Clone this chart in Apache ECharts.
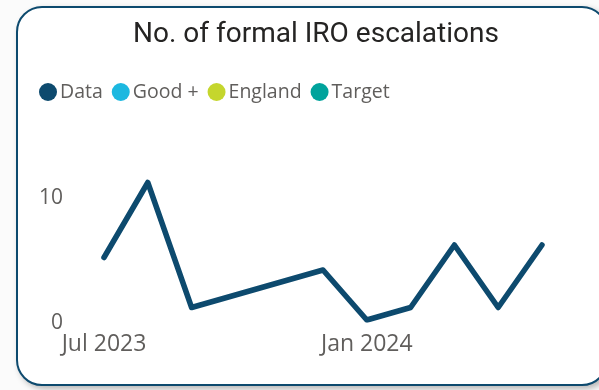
<!DOCTYPE html>
<html>
<head>
<meta charset="utf-8">
<script src="https://cdn.jsdelivr.net/npm/echarts@6/dist/echarts.min.js"></script>
<style>
  html, body { margin: 0; padding: 0; width: 599px; height: 390px; overflow: hidden; background: #fbfbfb; }
  #card {
    position: absolute; left: 16px; top: 6px; width: 588px; height: 376px;
    background: #ffffff; border: 2px solid #0d4a6e; border-radius: 26px;
    box-shadow: 3px 3px 6px rgba(0,0,0,0.28);
  }
  #chart { position: absolute; left: 0; top: 0; width: 599px; height: 390px; }
</style>
</head>
<body>
<div id="card"></div>
<div id="chart"></div>
<script>
// Monthly count of formal IRO escalations
const months = ['Jul 2023', 'Aug 2023', 'Sep 2023', 'Oct 2023', 'Nov 2023', 'Dec 2023',
                'Jan 2024', 'Feb 2024', 'Mar 2024', 'Apr 2024', 'May 2024'];
const escalations = [5, 11, 1, 2, 3, 4, 0, 1, 6, 1, 6];
const shownMonthLabels = ['Jul 2023', 'Jan 2024'];
const legendNames = ['Data', 'Good +', 'England', 'Target'];
const legendColors = ['#0d4a6e', '#1cb8e0', '#c5d62d', '#00a39c'];

const chart = echarts.init(document.getElementById('chart'), null, { renderer: 'canvas' });

const series = legendNames.map((name, i) => ({
  name: name,
  type: 'line',
  color: legendColors[i],
  data: i === 0 ? escalations : [],
  showSymbol: false,
  symbol: 'none',
  lineStyle: { width: 5.5, color: legendColors[i], cap: 'round', join: 'round' },
  silent: true
}));

chart.setOption({
  animation: false,
  backgroundColor: 'transparent',
  title: {
    text: 'No. of formal IRO escalations',
    left: 311, top: 16, textAlign: 'center',
    textStyle: { fontFamily: 'Roboto', fontSize: 28, fontWeight: 'normal', color: '#252423' }
  },
  legend: {
    data: legendNames.map(n => ({ name: n, icon: 'circle' })),
    left: 34, top: 77,
    itemWidth: 18, itemHeight: 18, itemGap: 9,
    textStyle: { fontFamily: 'Open Sans', fontSize: 19.5, color: '#605e5c', padding: [0, 0, 0, -2] },
    selectedMode: false
  },
  grid: { left: 104, right: 57, top: 132.5, bottom: 70 },
  xAxis: {
    type: 'category',
    data: months,
    boundaryGap: false,
    axisLine: { show: false },
    axisTick: { show: false },
    splitLine: { show: false },
    axisLabel: {
      interval: 0,
      margin: 13,
      fontFamily: 'Open Sans', fontSize: 23, color: '#605e5c',
      formatter: v => shownMonthLabels.includes(v) ? v : ''
    }
  },
  yAxis: {
    type: 'value',
    min: 0, max: 15, interval: 10,
    axisLine: { show: false },
    axisTick: { show: false },
    splitLine: { show: false },
    axisLabel: {
      margin: 41, showMaxLabel: false,
      formatter: v => '{n|' + v + '}',
      rich: {
        n: { fontFamily: 'Open Sans', fontSize: 21, color: '#605e5c', padding: [6, 0, 0, 0] }
      }
    }
  },
  series: series
});
</script>
</body>
</html>
